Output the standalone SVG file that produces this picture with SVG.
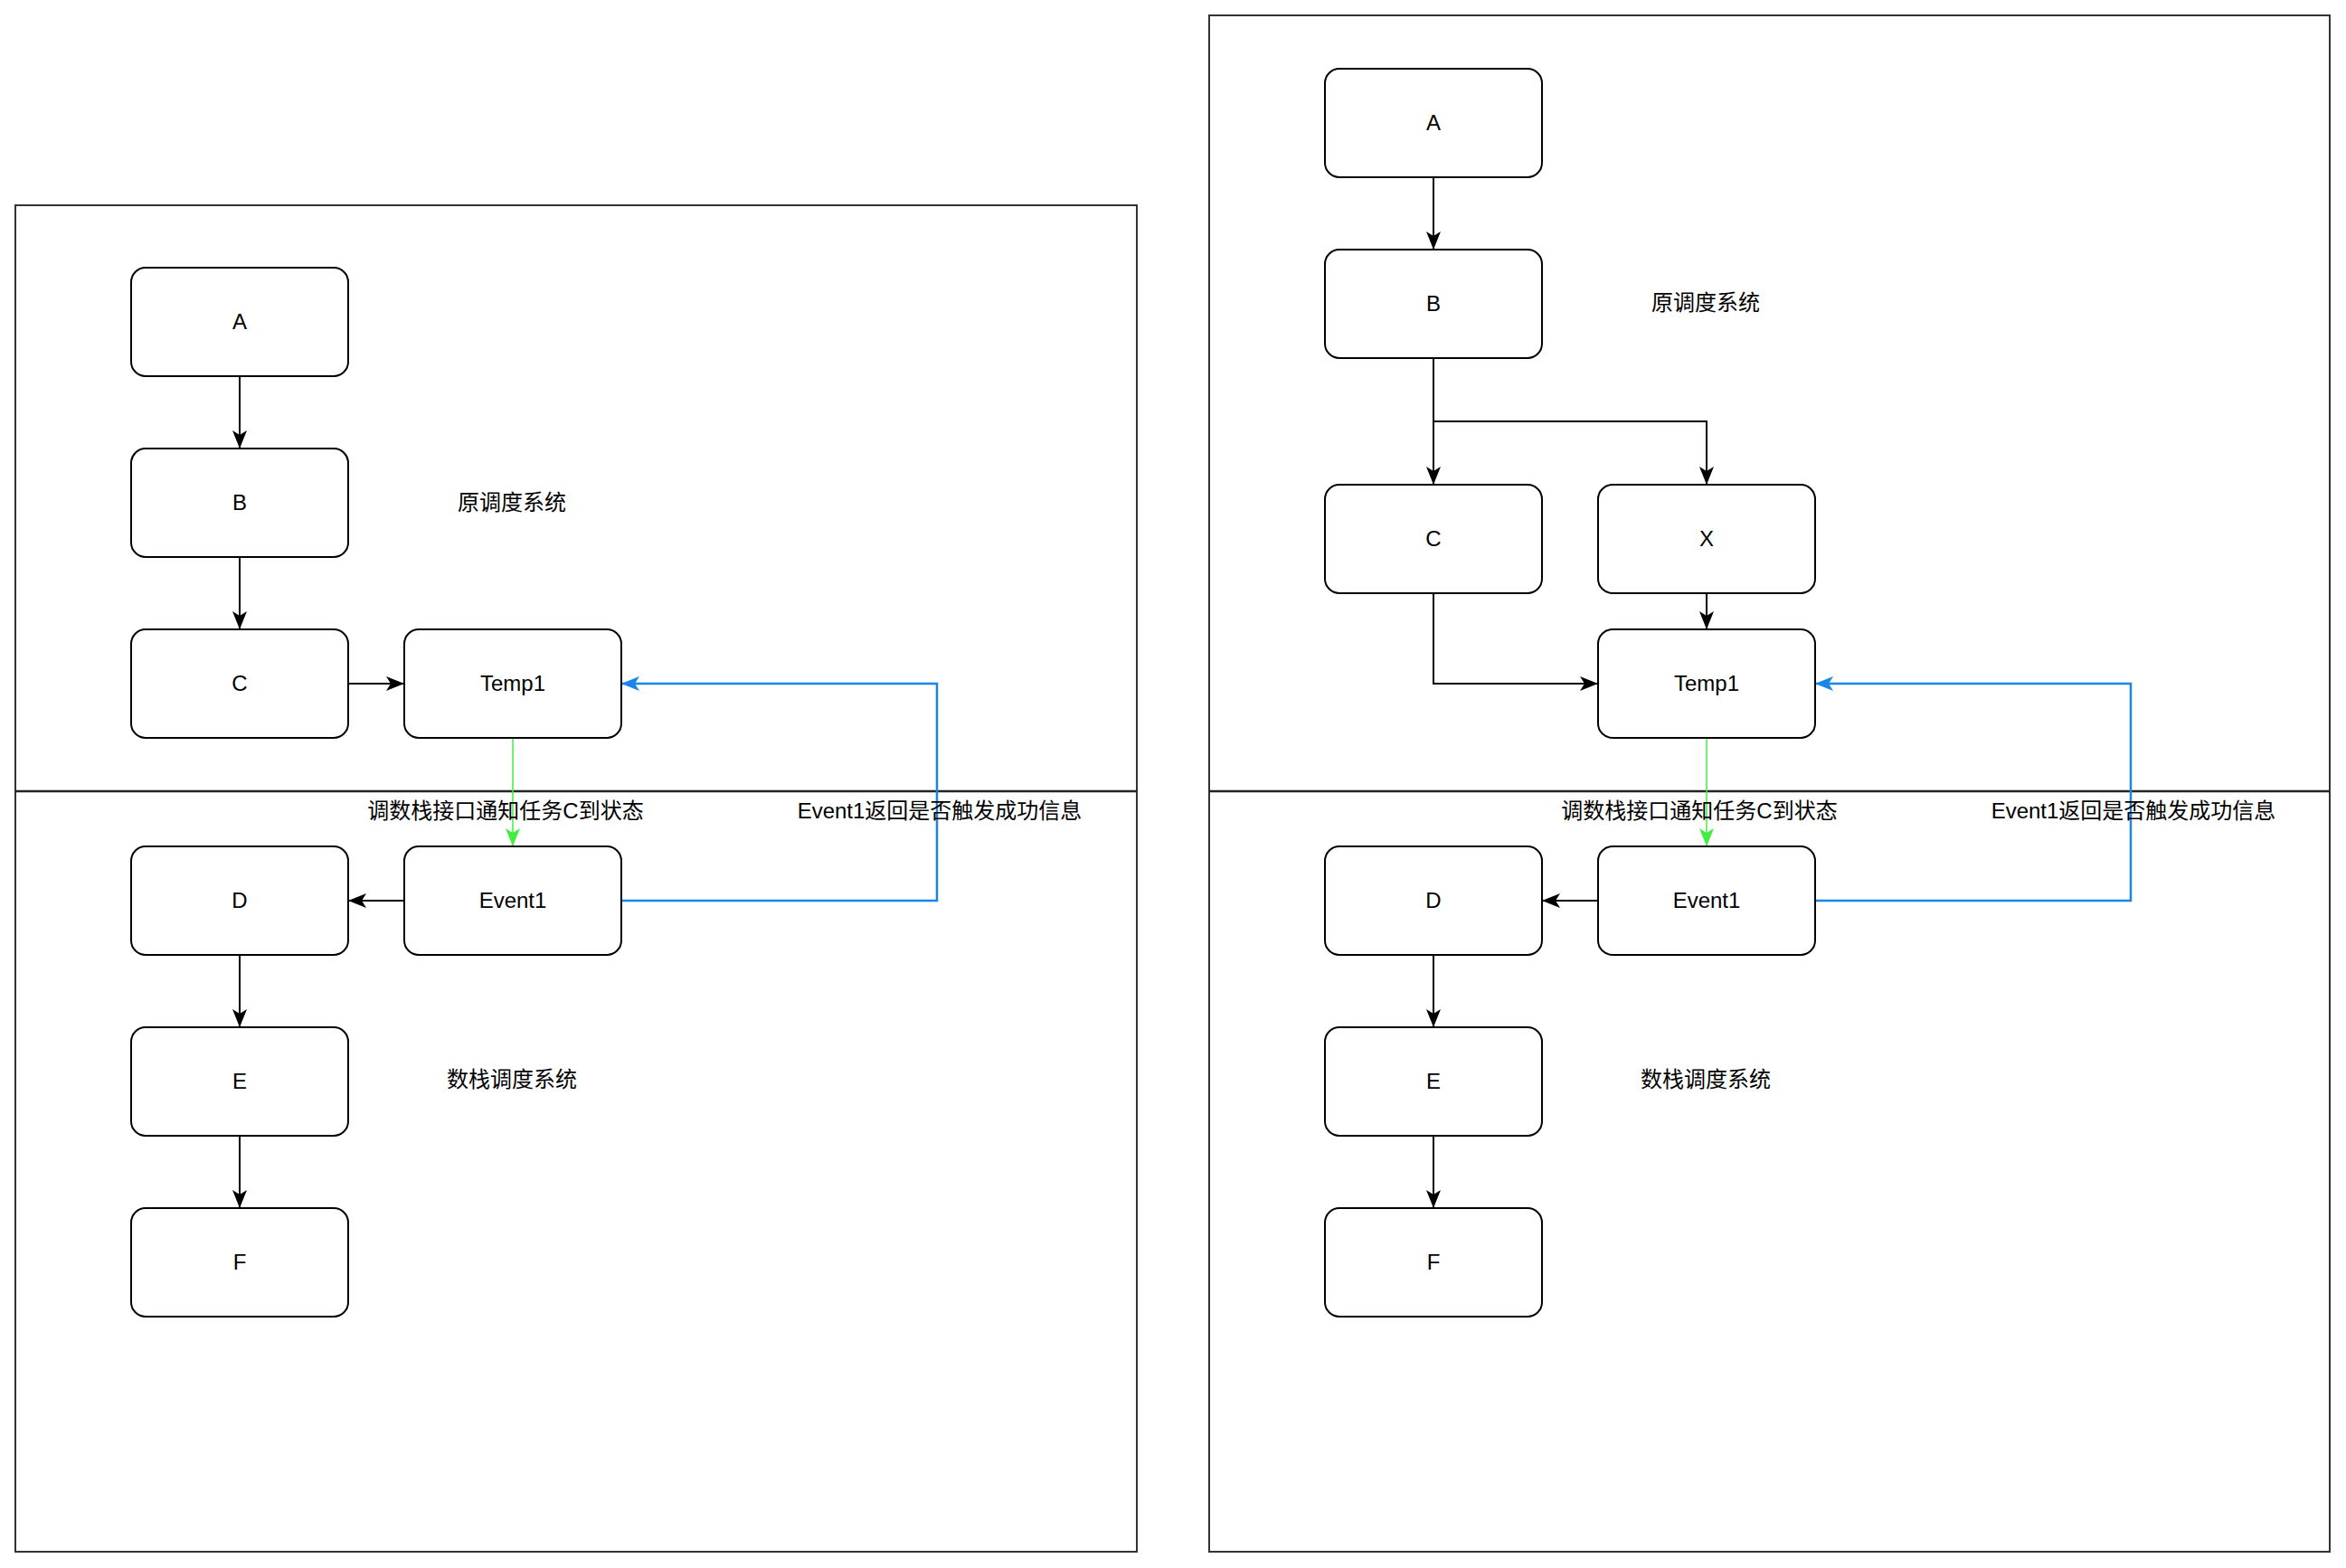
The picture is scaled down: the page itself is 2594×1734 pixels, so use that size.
<svg xmlns="http://www.w3.org/2000/svg" width="2594" height="1734" viewBox="0 0 2594 1734">
<style>
.panel{fill:none;stroke:#333;stroke-width:2}
.div{stroke:#222;stroke-width:2.5}
.box{fill:#fff;stroke:#000;stroke-width:2}
.t{font-family:"Liberation Sans","Noto Sans CJK SC",sans-serif;font-size:24px;fill:#000;text-anchor:middle}
.e{fill:none;stroke:#000;stroke-width:2}
.eb{fill:none;stroke:#1a86e8;stroke-width:2.5}
.eg{fill:none;stroke:#40ee40;stroke-width:1.5}
</style>
<defs>
<marker id="ab" viewBox="0 0 20 16" refX="20" refY="8" markerWidth="20" markerHeight="16" markerUnits="userSpaceOnUse" orient="auto"><path d="M0,0 L20,8 L0,16 L5,8 Z" fill="#000"/></marker>
<marker id="abl" viewBox="0 0 20 16" refX="20" refY="8" markerWidth="20" markerHeight="16" markerUnits="userSpaceOnUse" orient="auto"><path d="M0,0 L20,8 L0,16 L5,8 Z" fill="#1a86e8"/></marker>
<marker id="agr" viewBox="0 0 20 16" refX="20" refY="8" markerWidth="20" markerHeight="16" markerUnits="userSpaceOnUse" orient="auto"><path d="M0,0 L20,8 L0,16 L5,8 Z" fill="#40ee40"/></marker>
</defs>
<rect width="2594" height="1734" fill="#fff"/>
<g id="left-panel">
<rect class="panel" x="17" y="227" width="1240" height="1489"/>
<line class="div" x1="17" y1="875" x2="1257" y2="875"/>
<text class="t" x="566" y="564">原调度系统</text>
<text class="t" x="566" y="1202">数栈调度系统</text>
</g>
<g id="right-panel">
<rect class="panel" x="1337" y="17" width="1239" height="1699"/>
<line class="div" x1="1337" y1="875" x2="2576" y2="875"/>
<text class="t" x="1886" y="343">原调度系统</text>
<text class="t" x="1886" y="1202">数栈调度系统</text>
</g>
<g id="connectors">
<path class="e" d="M265,416 L265,496" marker-end="url(#ab)"/>
<path class="e" d="M265,616 L265,696" marker-end="url(#ab)"/>
<path class="e" d="M385,756 L447,756" marker-end="url(#ab)"/>
<path class="e" d="M447,996 L385,996" marker-end="url(#ab)"/>
<path class="e" d="M265,1056 L265,1136" marker-end="url(#ab)"/>
<path class="e" d="M265,1256 L265,1336" marker-end="url(#ab)"/>
<path class="eg" d="M567,816 L567,936" marker-end="url(#agr)"/>
<path class="eb" d="M687,996 L1036,996 L1036,756 L687,756" marker-end="url(#abl)"/>
<path class="e" d="M1585,196 L1585,276" marker-end="url(#ab)"/>
<path class="e" d="M1585,396 L1585,536" marker-end="url(#ab)"/>
<path class="e" d="M1585,466 L1887,466 L1887,536" marker-end="url(#ab)"/>
<path class="e" d="M1887,656 L1887,696" marker-end="url(#ab)"/>
<path class="e" d="M1585,656 L1585,756 L1767,756" marker-end="url(#ab)"/>
<path class="e" d="M1767,996 L1705,996" marker-end="url(#ab)"/>
<path class="e" d="M1585,1056 L1585,1136" marker-end="url(#ab)"/>
<path class="e" d="M1585,1256 L1585,1336" marker-end="url(#ab)"/>
<path class="eg" d="M1887,816 L1887,936" marker-end="url(#agr)"/>
<path class="eb" d="M2007,996 L2356,996 L2356,756 L2007,756" marker-end="url(#abl)"/>
<text class="t" x="559" y="905">调数栈接口通知任务C到状态</text>
<text class="t" x="1039" y="905">Event1返回是否触发成功信息</text>
<text class="t" x="1879" y="905">调数栈接口通知任务C到状态</text>
<text class="t" x="2359" y="905">Event1返回是否触发成功信息</text>
</g>
<g id="L-A"><rect class="box" x="145" y="296" width="240" height="120" rx="16"/><text class="t" x="265" y="364">A</text></g>
<g id="L-B"><rect class="box" x="145" y="496" width="240" height="120" rx="16"/><text class="t" x="265" y="564">B</text></g>
<g id="L-C"><rect class="box" x="145" y="696" width="240" height="120" rx="16"/><text class="t" x="265" y="764">C</text></g>
<g id="L-Temp1"><rect class="box" x="447" y="696" width="240" height="120" rx="16"/><text class="t" x="567" y="764">Temp1</text></g>
<g id="L-D"><rect class="box" x="145" y="936" width="240" height="120" rx="16"/><text class="t" x="265" y="1004">D</text></g>
<g id="L-Event1"><rect class="box" x="447" y="936" width="240" height="120" rx="16"/><text class="t" x="567" y="1004">Event1</text></g>
<g id="L-E"><rect class="box" x="145" y="1136" width="240" height="120" rx="16"/><text class="t" x="265" y="1204">E</text></g>
<g id="L-F"><rect class="box" x="145" y="1336" width="240" height="120" rx="16"/><text class="t" x="265" y="1404">F</text></g>
<g id="R-A"><rect class="box" x="1465" y="76" width="240" height="120" rx="16"/><text class="t" x="1585" y="144">A</text></g>
<g id="R-B"><rect class="box" x="1465" y="276" width="240" height="120" rx="16"/><text class="t" x="1585" y="344">B</text></g>
<g id="R-C"><rect class="box" x="1465" y="536" width="240" height="120" rx="16"/><text class="t" x="1585" y="604">C</text></g>
<g id="R-X"><rect class="box" x="1767" y="536" width="240" height="120" rx="16"/><text class="t" x="1887" y="604">X</text></g>
<g id="R-Temp1"><rect class="box" x="1767" y="696" width="240" height="120" rx="16"/><text class="t" x="1887" y="764">Temp1</text></g>
<g id="R-D"><rect class="box" x="1465" y="936" width="240" height="120" rx="16"/><text class="t" x="1585" y="1004">D</text></g>
<g id="R-Event1"><rect class="box" x="1767" y="936" width="240" height="120" rx="16"/><text class="t" x="1887" y="1004">Event1</text></g>
<g id="R-E"><rect class="box" x="1465" y="1136" width="240" height="120" rx="16"/><text class="t" x="1585" y="1204">E</text></g>
<g id="R-F"><rect class="box" x="1465" y="1336" width="240" height="120" rx="16"/><text class="t" x="1585" y="1404">F</text></g>
</svg>
